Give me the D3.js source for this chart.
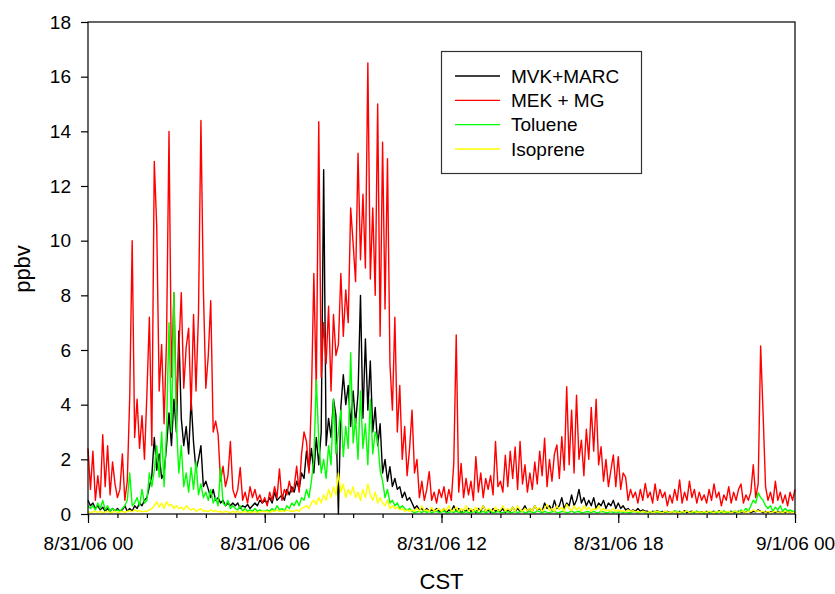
<!DOCTYPE html>
<html>
<head>
<meta charset="utf-8">
<script src="https://cdn.jsdelivr.net/npm/d3@7"></script>
<style>
  body { margin: 0; background: #fff; }
  text { font-family: Arial, "Liberation Sans", sans-serif; fill: #000; }
</style>
</head>
<body>
<script>
// 5-minute samples, 8/31/06 00:00 -> 9/1/06 00:00 (12 values per hour row)
var startTime = new Date(2006, 7, 31, 0, 0);
var stepMinutes = 5;

var mvkMarc = [
  0.5,0.3,0.4,0.2,0.3,0.15,0.25,0.1,0.2,0.1,0.2,0.1,
  0.2,0.1,0.15,0.3,0.1,0.2,0.1,0.3,0.2,0.4,0.3,0.5,
  0.6,1.0,1.4,2.8,1.6,2.2,1.3,1.5,2.5,3.7,2.5,4.2,
  3.0,6.7,3.5,2.5,3.2,2.2,4.2,2.6,1.6,2.0,2.5,1.0,
  1.2,0.9,0.6,0.9,0.5,0.6,0.4,0.5,0.3,0.4,0.3,0.4,
  0.3,0.4,0.2,0.3,0.25,0.35,0.2,0.3,0.4,0.3,0.5,0.4,
  0.5,0.4,0.6,0.4,0.8,0.5,0.6,0.7,0.5,0.9,0.7,1.0,
  0.8,1.2,0.9,1.5,1.3,2.3,1.6,2.4,1.5,2.8,1.8,3.0,
  12.6,2.5,3.5,2.8,4.2,3.6,0.0,3.9,5.1,4.0,4.7,3.2,
  4.5,3.3,4.4,8.0,3.5,6.4,3.8,5.6,3.0,3.9,2.5,3.3,
  1.5,2.0,1.2,1.73,1.0,1.3,0.9,1.0,0.6,0.8,0.5,0.6,
  0.4,0.2,0.3,0.15,0.2,0.1,0.2,0.1,0.15,0.1,0.2,0.1,
  0.1,0.2,0.05,0.15,0.1,0.3,0.1,0.2,0.05,0.15,0.1,0.2,
  0.1,0.15,0.05,0.2,0.1,0.3,0.1,0.15,0.05,0.2,0.1,0.15,
  0.1,0.2,0.05,0.15,0.1,0.25,0.1,0.2,0.1,0.15,0.3,0.1,
  0.2,0.1,0.3,0.15,0.2,0.1,0.4,0.2,0.3,0.15,0.5,0.2,
  0.3,0.6,0.2,0.4,0.3,0.7,0.3,0.5,0.9,0.4,0.6,0.3,
  0.5,0.3,0.6,0.2,0.4,0.3,0.5,0.2,0.4,0.3,0.5,0.2,
  0.4,0.2,0.3,0.15,0.2,0.1,0.15,0.1,0.2,0.1,0.15,0.1,
  0.1,0.05,0.1,0.08,0.12,0.05,0.1,0.06,0.1,0.05,0.08,0.1,
  0.05,0.1,0.06,0.12,0.05,0.08,0.1,0.05,0.1,0.06,0.08,0.05,
  0.1,0.05,0.08,0.1,0.05,0.12,0.06,0.1,0.05,0.08,0.1,0.05,
  0.08,0.1,0.05,0.1,0.06,0.12,0.05,0.1,0.08,0.15,0.1,0.05,
  0.1,0.05,0.08,0.1,0.05,0.1,0.06,0.08,0.05,0.1,0.06,0.08,
  0.05
];

var mekMg = [
  2.4,0.9,2.3,0.5,1.4,0.6,2.9,1.0,2.5,0.7,1.9,1.1,
  0.6,0.9,2.2,0.5,1.2,4.3,10.0,2.8,4.2,2.4,3.6,2.0,
  4.4,7.2,2.5,12.9,10.5,4.5,6.2,3.3,6.4,14.0,5.0,8.1,
  4.0,6.0,8.1,4.6,6.1,6.8,3.8,7.3,4.5,7.3,14.4,8.2,
  4.6,5.8,7.8,3.0,3.4,2.9,1.2,1.75,1.0,1.4,2.65,0.9,
  0.6,0.9,1.7,0.5,0.8,0.4,1.0,0.6,0.9,0.5,0.7,0.4,
  0.6,0.3,0.8,0.5,1.0,0.6,1.65,0.5,0.9,0.7,1.2,0.8,
  1.0,1.75,0.8,2.2,3.0,2.65,1.5,4.2,8.8,4.5,14.35,5.0,
  7.0,5.5,7.6,4.5,7.3,5.8,6.2,8.8,6.5,8.2,7.0,11.2,
  9.9,8.5,13.2,9.3,11.7,9.0,16.5,8.6,11.2,8.0,15.0,6.5,
  13.6,7.5,13.0,5.5,3.8,7.2,3.0,4.7,2.0,3.2,1.4,2.4,
  3.8,1.5,2.0,0.6,1.2,0.5,0.9,1.55,0.5,0.8,0.4,0.9,
  0.6,1.0,0.4,0.9,0.5,1.85,6.55,0.8,1.85,0.6,1.3,0.7,
  1.2,0.5,2.1,0.8,1.5,0.6,1.3,0.9,1.4,0.7,2.65,1.0,
  1.2,0.8,2.15,1.0,2.3,1.3,2.45,0.9,2.65,1.1,1.8,0.8,
  1.5,0.9,1.9,1.1,2.3,1.4,2.77,1.0,2.0,1.2,2.2,2.53,
  1.3,2.83,1.6,4.66,1.8,3.8,1.5,4.35,2.0,2.7,1.4,3.1,
  2.0,3.9,2.3,4.2,1.8,2.46,1.2,2.0,1.0,1.6,2.16,1.0,
  2.1,0.9,1.5,1.35,0.5,0.9,0.6,0.8,0.4,0.9,0.5,1.12,
  0.6,0.8,0.4,1.1,0.5,0.9,0.6,0.8,0.3,0.7,0.4,0.9,
  0.5,1.25,0.4,0.8,0.5,1.2,0.6,0.9,0.4,0.8,0.5,0.7,
  0.4,0.9,0.5,1.1,0.6,0.8,0.3,0.7,0.5,1.0,0.4,0.8,
  0.5,0.9,1.1,0.4,0.7,0.5,0.8,1.8,0.6,1.1,6.15,3.68,
  1.0,0.5,0.8,0.4,1.2,0.5,0.8,0.4,0.7,0.3,0.8,0.5,
  0.9
];

var toluene = [
  0.3,0.2,0.3,0.15,0.4,0.2,0.5,0.15,0.3,0.1,0.2,0.1,
  0.15,0.1,0.2,0.3,0.5,1.5,0.3,0.4,0.6,0.3,0.9,0.4,
  0.5,1.5,1.0,1.6,2.5,1.35,3.0,1.0,3.1,7.0,3.0,8.1,
  3.3,1.5,2.5,1.0,1.5,0.8,1.7,0.9,1.9,0.7,1.1,0.6,
  0.8,0.5,0.9,0.4,0.6,0.3,1.7,0.4,0.3,0.5,0.2,0.3,
  0.2,0.15,0.3,0.1,0.2,0.1,0.15,0.1,0.2,0.1,0.15,0.1,
  0.1,0.15,0.1,0.2,0.1,0.3,0.15,0.2,0.1,0.3,0.2,0.4,
  0.3,0.5,0.3,0.6,0.5,0.9,0.6,1.2,2.0,4.9,2.7,1.5,
  2.0,1.3,2.5,1.8,4.2,2.2,3.0,3.8,2.1,3.2,2.4,5.9,
  2.6,3.5,2.0,4.5,2.4,3.3,1.8,4.2,2.2,3.0,2.7,1.6,
  1.2,0.6,0.9,0.4,0.5,0.3,0.4,0.2,0.3,0.2,0.15,0.2,
  0.1,0.05,0.08,0.1,0.05,0.12,0.06,0.1,0.05,0.08,0.1,0.05,
  0.08,0.1,0.05,0.06,0.1,0.05,0.12,0.06,0.08,0.05,0.1,0.06,
  0.05,0.08,0.1,0.05,0.06,0.1,0.05,0.08,0.12,0.05,0.06,0.1,
  0.06,0.05,0.1,0.08,0.05,0.06,0.1,0.05,0.08,0.1,0.05,0.06,
  0.1,0.06,0.05,0.12,0.08,0.05,0.1,0.06,0.05,0.08,0.1,0.05,
  0.05,0.1,0.08,0.05,0.06,0.12,0.05,0.08,0.1,0.05,0.06,0.08,
  0.08,0.05,0.1,0.06,0.05,0.1,0.08,0.05,0.06,0.1,0.05,0.08,
  0.06,0.1,0.05,0.08,0.06,0.05,0.1,0.08,0.05,0.06,0.1,0.05,
  0.05,0.08,0.06,0.1,0.05,0.08,0.05,0.1,0.06,0.05,0.08,0.1,
  0.1,0.05,0.08,0.05,0.12,0.06,0.05,0.08,0.1,0.05,0.06,0.05,
  0.06,0.1,0.05,0.08,0.05,0.1,0.06,0.12,0.05,0.08,0.05,0.1,
  0.1,0.05,0.15,0.1,0.2,0.1,0.3,0.5,0.4,0.78,0.6,0.5,
  0.3,0.2,0.3,0.1,0.25,0.15,0.3,0.1,0.2,0.1,0.15,0.1,
  0.1
];

var isoprene = [
  0.1,0.05,0.08,0.1,0.06,0.1,0.05,0.08,0.1,0.05,0.07,0.1,
  0.05,0.08,0.1,0.06,0.1,0.12,0.08,0.15,0.1,0.12,0.08,0.1,
  0.1,0.15,0.2,0.3,0.45,0.25,0.4,0.2,0.45,0.3,0.35,0.2,
  0.3,0.2,0.25,0.15,0.3,0.2,0.15,0.2,0.1,0.15,0.2,0.1,
  0.12,0.08,0.15,0.1,0.12,0.08,0.1,0.06,0.1,0.08,0.05,0.1,
  0.06,0.1,0.05,0.08,0.1,0.05,0.08,0.06,0.1,0.05,0.08,0.1,
  0.08,0.1,0.06,0.12,0.1,0.15,0.08,0.12,0.1,0.15,0.12,0.1,
  0.1,0.15,0.1,0.2,0.25,0.3,0.2,0.4,0.5,0.35,0.6,0.4,
  0.7,0.5,0.9,0.6,1.0,0.7,1.5,0.8,1.1,0.6,0.9,0.7,
  1.0,0.6,0.8,0.5,0.9,0.6,1.1,0.7,0.5,0.8,0.4,0.6,
  0.4,0.3,0.5,0.2,0.3,0.2,0.25,0.15,0.2,0.1,0.15,0.1,
  0.15,0.1,0.2,0.1,0.3,0.12,0.15,0.1,0.25,0.1,0.15,0.2,
  0.1,0.2,0.12,0.3,0.1,0.15,0.25,0.1,0.2,0.12,0.3,0.1,
  0.2,0.1,0.25,0.12,0.15,0.3,0.1,0.2,0.15,0.1,0.25,0.12,
  0.15,0.3,0.1,0.2,0.12,0.25,0.1,0.3,0.15,0.1,0.2,0.12,
  0.2,0.1,0.3,0.15,0.25,0.1,0.2,0.35,0.12,0.2,0.1,0.3,
  0.15,0.25,0.1,0.35,0.2,0.12,0.3,0.15,0.25,0.1,0.3,0.15,
  0.25,0.1,0.2,0.15,0.3,0.1,0.2,0.12,0.15,0.1,0.2,0.1,
  0.15,0.1,0.12,0.08,0.15,0.1,0.12,0.08,0.1,0.06,0.1,0.08,
  0.06,0.1,0.05,0.08,0.1,0.06,0.05,0.1,0.08,0.05,0.1,0.06,
  0.08,0.05,0.1,0.06,0.12,0.05,0.08,0.1,0.05,0.08,0.06,0.1,
  0.05,0.1,0.08,0.05,0.1,0.06,0.12,0.05,0.08,0.1,0.05,0.08,
  0.1,0.06,0.08,0.12,0.05,0.1,0.08,0.15,0.1,0.12,0.08,0.1,
  0.06,0.1,0.05,0.08,0.1,0.06,0.08,0.05,0.1,0.06,0.08,0.05,
  0.08
];

var seriesNames = ["MVK+MARC", "MEK + MG", "Toluene", "Isoprene"];
var seriesColors = ["#000000", "#ff0000", "#00ff00", "#ffff00"];
var seriesValues = [mvkMarc, mekMg, toluene, isoprene];

var yTicks = [0, 2, 4, 6, 8, 10, 12, 14, 16, 18];
var xTickLabels = ["8/31/06 00", "8/31/06 06", "8/31/06 12", "8/31/06 18", "9/1/06 00"];

// plot area (window.top is read-only, so avoid bare "top")
var plotLeft = 88, plotRight = 795, plotTop = 22, plotBottom = 514;

var svg = d3.select("body").append("svg")
    .attr("width", 835)
    .attr("height", 594);

var endTime = d3.timeHour.offset(startTime, 24);

var x = d3.scaleTime()
    .domain([startTime, endTime])
    .range([plotLeft, plotRight]);

var y = d3.scaleLinear()
    .domain([0, 18])
    .range([plotBottom, plotTop]);

// lines, drawn in legend order
var line = d3.line()
    .x(function(d, i) { return x(d3.timeMinute.offset(startTime, i * stepMinutes)); })
    .y(function(d) { return y(d); });

seriesValues.forEach(function(vals, k) {
  svg.append("path")
    .datum(vals)
    .attr("fill", "none")
    .attr("stroke", seriesColors[k])
    .attr("stroke-width", 1.4)
    .attr("stroke-linejoin", "round")
    .attr("d", line);
});

// frame
svg.append("rect")
    .attr("x", plotLeft)
    .attr("y", plotTop)
    .attr("width", plotRight - plotLeft)
    .attr("height", plotBottom - plotTop)
    .attr("fill", "none")
    .attr("stroke", "#000")
    .attr("stroke-width", 1.2);

// y axis
var yAxis = svg.append("g")
    .attr("transform", "translate(" + plotLeft + ",0)")
    .call(d3.axisLeft(y).tickValues(yTicks).tickSize(7).tickSizeOuter(0).tickPadding(10));
yAxis.select(".domain").remove();
yAxis.selectAll("text").attr("font-size", 19).attr("font-family", "Arial, 'Liberation Sans', sans-serif");
yAxis.selectAll("line").attr("stroke-width", 1.2);

// x axis: hourly minor ticks, 6-hourly major ticks with labels
var minorTicks = d3.timeHour.range(startTime, d3.timeHour.offset(endTime, 1), 1);
var majorTicks = d3.timeHour.range(startTime, d3.timeHour.offset(endTime, 1), 6);

var xMinor = svg.append("g")
    .attr("transform", "translate(0," + plotBottom + ")")
    .call(d3.axisBottom(x).tickValues(minorTicks).tickSize(4).tickSizeOuter(0).tickFormat(""));
xMinor.select(".domain").remove();
xMinor.selectAll("line").attr("stroke-width", 1.2);

var xMajor = svg.append("g")
    .attr("transform", "translate(0," + plotBottom + ")")
    .call(d3.axisBottom(x).tickValues(majorTicks).tickSize(9).tickSizeOuter(0).tickPadding(14)
      .tickFormat(function(d, i) { return xTickLabels[i]; }));
xMajor.select(".domain").remove();
xMajor.selectAll("text").attr("font-size", 19).attr("font-family", "Arial, 'Liberation Sans', sans-serif");
xMajor.selectAll("line").attr("stroke-width", 1.2);

// axis titles
svg.append("text")
    .attr("x", (plotLeft + plotRight) / 2)
    .attr("y", 589)
    .attr("text-anchor", "middle")
    .attr("font-size", 22)
    .text("CST");

svg.append("text")
    .attr("transform", "translate(30,269) rotate(-90)")
    .attr("text-anchor", "middle")
    .attr("font-size", 22)
    .text("ppbv");

// legend
var legend = svg.append("g");
legend.append("rect")
    .attr("x", 441.5)
    .attr("y", 51.5)
    .attr("width", 200)
    .attr("height", 122)
    .attr("fill", "#fff")
    .attr("stroke", "#333")
    .attr("stroke-width", 1.2);

var rowY = d3.scalePoint().domain(seriesNames).range([76, 149]);

seriesNames.forEach(function(name, k) {
  legend.append("line")
    .attr("x1", 455).attr("x2", 500)
    .attr("y1", rowY(name)).attr("y2", rowY(name))
    .attr("stroke", seriesColors[k])
    .attr("stroke-width", 1.3);
  legend.append("text")
    .attr("x", 511)
    .attr("y", rowY(name))
    .attr("dy", "0.35em")
    .attr("font-size", 19)
    .text(name);
});
</script>
</body>
</html>
